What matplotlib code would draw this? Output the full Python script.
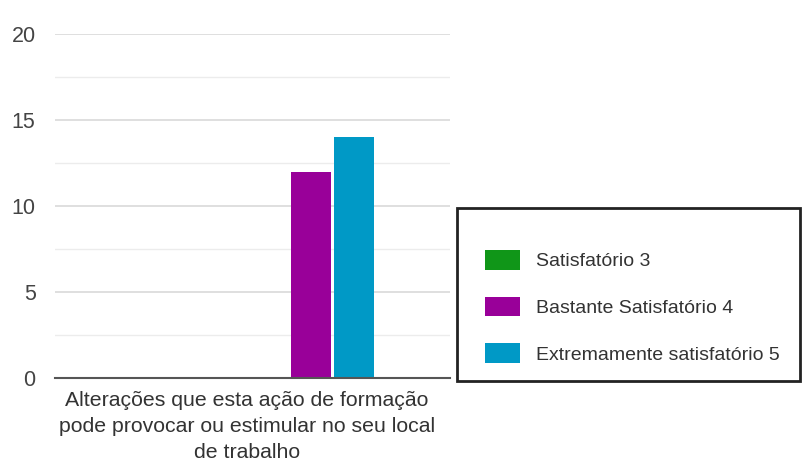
import matplotlib
matplotlib.use("Agg")
import matplotlib.pyplot as plt
from matplotlib.patches import Rectangle
import numpy as np

plt.rcParams['font.family'] = ['Liberation Sans', 'DejaVu Sans']

categories = ["Alterações que esta ação de formação\npode provocar ou estimular no seu local\nde trabalho"]
series_names = ["Satisfatório 3", "Bastante Satisfatório 4", "Extremamente satisfatório 5"]
series_values = [[0], [12], [14]]
series_colors = ["#109618", "#990099", "#0099c6"]
series_slots = [3, 4, 5]   # position among the chart's 6 series slots
n_slots = 6
yticks = [0, 5, 10, 15, 20]

fig = plt.figure(figsize=(8.03, 4.62), dpi=100)
ax = fig.add_axes([55/803, 1-378/462, (450-55)/803, (378-34)/462])

slot_w = 0.109
bar_w = 0.101
x = np.arange(len(categories))
handles = []
for name, vals, col, slot in zip(series_names, series_values, series_colors, series_slots):
    off = (slot - (n_slots - 1) / 2) * slot_w
    h = ax.bar(x + off, vals, width=bar_w, color=col, label=name, zorder=3)
    handles.append(h)

ax.set_xlim(-0.485, 0.515)
ax.set_ylim(0, 20)
ax.set_yticks(yticks)
ax.set_yticks([2.5, 7.5, 12.5, 17.5], minor=True)
ax.grid(axis='y', which='major', color='#d9d9d9', linewidth=1.2, zorder=0)
ax.grid(axis='y', which='minor', color='#ececec', linewidth=1.0, zorder=0)
for s in ['top', 'right', 'left']:
    ax.spines[s].set_visible(False)
ax.spines['bottom'].set_color('#555555')
ax.spines['bottom'].set_linewidth(1.5)
ax.spines['bottom'].set_zorder(4)
ax.tick_params(axis='y', which='both', length=0, pad=14, labelsize=15.5, labelcolor='#444444')
ax.tick_params(axis='x', length=0, pad=9, labelsize=15.3, labelcolor='#333333')
ax.set_xticks(x)
ax.set_xticklabels(categories, linespacing=1.5)

# legend frame
fig.patches.append(Rectangle((457/803, 1-381/462), (800-457)/803, (381-208)/462,
                             transform=fig.transFigure, fill=False,
                             edgecolor='#222222', linewidth=2))
fig.legend(handles=handles, labels=series_names, loc='upper left',
           bbox_to_anchor=(475/803, 1-240/462), frameon=False,
           fontsize=14, labelcolor='#333333', handlelength=1.8, handleheight=1.2,
           labelspacing=1.35, handletextpad=0.85, borderpad=0)

fig.savefig("out.png", dpi=100)
